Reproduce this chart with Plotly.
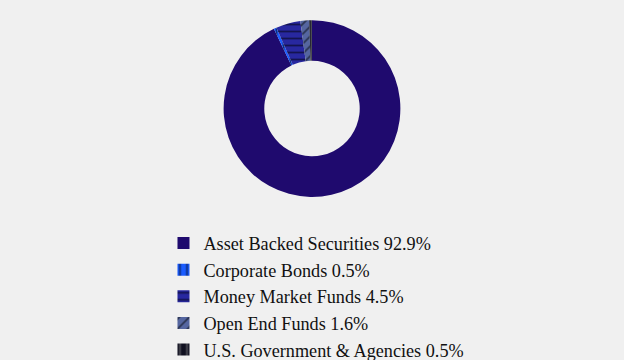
import plotly.graph_objects as go

labels = ["Asset Backed Securities 92.9%", "Corporate Bonds 0.5%", "Money Market Funds 4.5%",
          "Open End Funds 1.6%", "U.S. Government & Agencies 0.5%"]
values = [92.9, 0.5, 4.5, 1.6, 0.5]
colors = ["#1f0a6e", "#1a5cff", "#2828a0", "#5566a0", "#101020"]
patterns = ["", "|", "-", "/", "|"]
fgcolors = ["#000000", "#000000", "#000000", "#000000", "#888888"]

fig = go.Figure(go.Pie(
    labels=labels, values=values, hole=0.54, sort=False, direction="clockwise",
    rotation=0, textinfo="none", hoverinfo="label",
    marker=dict(colors=colors, line=dict(width=0),
                pattern=dict(shape=patterns, fgcolor=fgcolors, bgcolor=colors,
                             fillmode="overlay", size=7, solidity=0.25)),
    domain=dict(x=[0.357, 0.643], y=[0.453, 0.944]),
))
fig.update_layout(
    width=624, height=360, margin=dict(l=0, r=0, t=0, b=0, autoexpand=False),
    paper_bgcolor="#f0f0f0", plot_bgcolor="#f0f0f0",
    font=dict(family="Liberation Serif", size=18.2, color="#111111"),
    legend=dict(x=0.262, y=0.376, xanchor="left", yanchor="top", bgcolor="rgba(0,0,0,0)",
                tracegroupgap=0, itemwidth=30),
    showlegend=True,
)
fig.write_html("out.html")
